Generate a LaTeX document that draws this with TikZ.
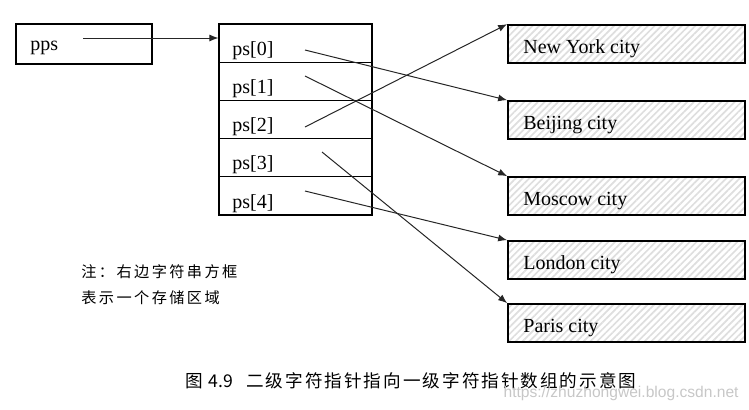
\documentclass[tikz,border=0pt]{standalone}
\usepackage{fontspec}
\setmainfont{Liberation Serif}
\newfontfamily\cjk{Noto Sans CJK SC}
\newfontfamily\wmfont{Liberation Sans}
\usetikzlibrary{arrows.meta,patterns.meta}
\newcommand\spreadit[2]{\def\sprdk{#1}\sprdi#2\relax}
\def\sprdi#1{\ifx\relax#1\else#1\kern\sprdk\expandafter\sprdi\fi}
\begin{document}
\begin{tikzpicture}[x=0.5pt,y=-0.5pt,
  cell/.style={draw, line width=0.55pt, minimum width=76.5pt, minimum height=19.1pt, inner sep=0pt},
  strbox/.style={draw, line width=0.85pt, minimum width=118.5pt, minimum height=19pt, inner sep=0pt,
    pattern={Lines[angle=45,distance=2.4pt,line width=0.85pt]}, pattern color=black!13},
  lbl/.style={anchor=west, inner sep=0pt, font=\fontsize{10pt}{12pt}\selectfont},
  ptr/.style={line width=0.5pt, draw=black!85, -{Latex[length=4.5pt,width=3.5pt]}},
  notetext/.style={anchor=west, inner sep=0pt, font=\cjk\fontsize{7.6pt}{9pt}\selectfont},
  captext/.style={anchor=west, inner sep=0pt, font=\cjk\fontsize{8.8pt}{10pt}\selectfont}
  ]
\useasboundingbox (0,0) rectangle (749,409);
% pps
\node[draw, line width=0.85pt, minimum width=68pt, minimum height=20pt, inner sep=0pt] (ppsbox) at (84,44) {};
\node[lbl] (ppstext) at (30,48) {pps};
\coordinate (ppsstart) at (83,38);
% array cells
\node[cell] (c0) at (295.5,43.1) {};
\node[cell] (c1) at (295.5,81.3) {};
\node[cell] (c2) at (295.5,119.5) {};
\node[cell] (c3) at (295.5,157.7) {};
\node[cell] (c4) at (295.5,195.9) {};
\node[lbl] (t0) at (232,50.5) {ps[0]};
\node[lbl] (t1) at (232,88.7) {ps[1]};
\node[lbl] (t2) at (232,126.9) {ps[2]};
\node[lbl] (t3) at (232,165.1) {ps[3]};
\node[lbl] (t4) at (232,203.3) {ps[4]};
\coordinate (s0) at (305,50);
\coordinate (s1) at (305,76);
\coordinate (s2) at (305,127);
\coordinate (s3) at (322,152);
\coordinate (s4) at (305,191);
% string boxes
\node[strbox] (ny) at (626.5,44) {};
\node[strbox] (bj) at (626.5,120) {};
\node[strbox] (mo) at (626.5,196) {};
\node[strbox] (lo) at (626.5,260) {};
\node[strbox] (pa) at (626.5,323) {};
\node[lbl] (nyt) at (523,49) {New York city};
\node[lbl] (bjt) at (523,125) {Beijing city};
\node[lbl] (mot) at (523,201) {Moscow city};
\node[lbl] (lot) at (523,265) {London city};
\node[lbl] (pat) at (523,328) {Paris city};
% pointers
\draw[ptr] (ppsstart) -- (ppsstart -| c0.west);
\draw[ptr] (s0) -- (bj.north west);
\draw[ptr] (s1) -- (mo.north west);
\draw[ptr] (s2) -- (ny.north west);
\draw[ptr] (s3) -- (pa.north west);
\draw[ptr] (s4) -- (lo.north west);
% note
\node[notetext] (note1) at (81,272) {\spreadit{1.2pt}{注：右边字符串方框}};
\node[notetext] (note2) at (81,298) {\spreadit{1.2pt}{表示一个存储区域}};
% caption
\node[captext] (cap1) at (185,381) {图};
\node[captext] (cap2) at (208,381) {4.9};
\node[captext] (cap3) at (246,381) {\spreadit{1pt}{二级字符指针指向一级字符指针数组的示意图}};
% watermark
\node[anchor=east, inner sep=0pt, text=black!22, font=\wmfont\fontsize{7.8pt}{9pt}\selectfont] (wm) at (739,393) {https://zhuzhongwei.blog.csdn.net};
\end{tikzpicture}
\end{document}
